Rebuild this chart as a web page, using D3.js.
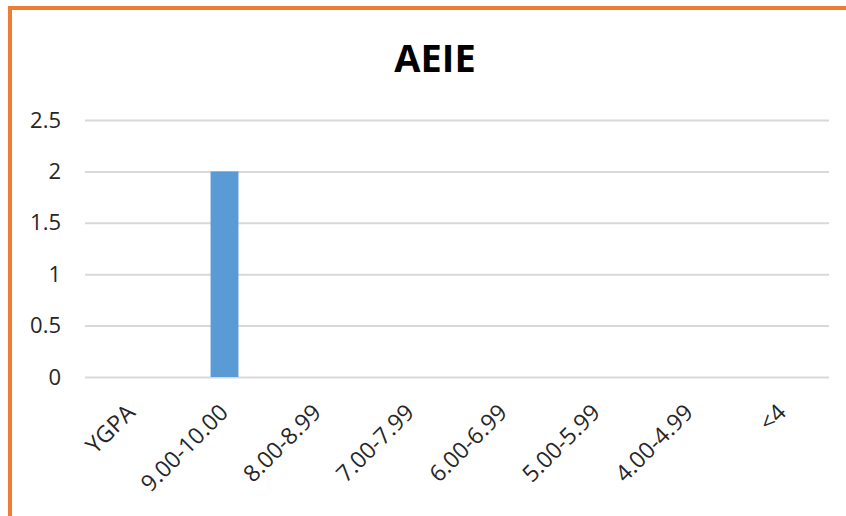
<!DOCTYPE html>
<html>
<head>
<meta charset="utf-8">
<script src="https://cdn.jsdelivr.net/npm/d3@7"></script>
<style>
  body { margin: 0; background: #fff; }
  svg { display: block; }
</style>
</head>
<body>
<script>
// données du graphique
const title = "AEIE";
const categories = ["YGPA", "9.00-10.00", "8.00-8.99", "7.00-7.99", "6.00-6.99", "5.00-5.99", "4.00-4.99", "<4"];
const values = [0, 2, 0, 0, 0, 0, 0, 0];
const yTicks = [0, 0.5, 1, 1.5, 2, 2.5];

const width = 846;
const height = 516;
const font = "'Open Sans', 'Noto Sans', sans-serif";

const svg = d3
  .select("body")
  .append("svg")
  .attr("width", width)
  .attr("height", height);

// cadre orange (haut + gauche)
svg
  .append("path")
  .attr("d", `M10,${height} L10,8 L${width},8`)
  .attr("fill", "none")
  .attr("stroke", "#ED7D31")
  .attr("stroke-width", 4);

const xScale = d3
  .scaleBand()
  .domain(categories)
  .range([85, 829])
  .paddingInner(0.7)
  .paddingOuter(0.35);

const yScale = d3.scaleLinear().domain([0, 2.5]).range([377, 120]);

// grille + labels Y
const yAxis = svg
  .append("g")
  .attr("transform", "translate(85,0)")
  .call(
    d3
      .axisLeft(yScale)
      .tickValues(yTicks)
      .tickSize(-(829 - 85))
      .tickPadding(24)
      .tickFormat((d) => d)
  );
yAxis.select(".domain").remove();
yAxis.selectAll(".tick line").attr("stroke", "#D9D9D9").attr("stroke-width", 2);
yAxis
  .selectAll(".tick text")
  .attr("font-family", font)
  .attr("font-size", "22px")
  .attr("fill", "#262626");

// barres
svg
  .append("g")
  .selectAll("rect")
  .data(values)
  .join("rect")
  .attr("x", (d, i) => xScale(categories[i]))
  .attr("y", (d) => yScale(d))
  .attr("width", xScale.bandwidth())
  .attr("height", (d) => yScale(0) - yScale(d))
  .attr("fill", "#5B9BD5");

// labels X
svg
  .append("g")
  .selectAll("text")
  .data(categories)
  .join("text")
  .attr(
    "transform",
    (d) => `translate(${xScale(d) + xScale.bandwidth() / 2 + 5},414) rotate(-45)`
  )
  .attr("text-anchor", "end")
  .attr("font-family", font)
  .attr("font-size", "23px")
  .attr("fill", "#262626")
  .text((d) => d);

// titre
svg
  .append("text")
  .attr("x", 435)
  .attr("y", 72)
  .attr("text-anchor", "middle")
  .attr("font-family", font)
  .attr("font-weight", "bold")
  .attr("font-size", "38px")
  .attr("fill", "#000")
  .text(title);
</script>
</body>
</html>
